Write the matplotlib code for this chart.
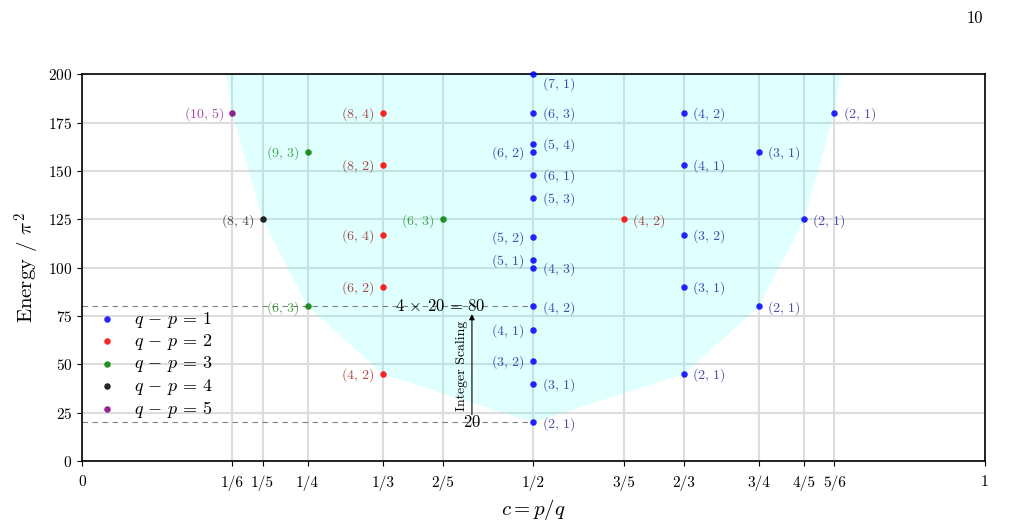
import numpy as np
import matplotlib
matplotlib.use("Agg")
import matplotlib.pyplot as plt

plt.rcParams['font.family'] = 'serif'
plt.rcParams['font.serif'] = ['cmr10']
plt.rcParams['mathtext.fontset'] = 'cm'
plt.rcParams['axes.formatter.use_mathtext'] = True

# q - p = 1
c1 = [1/2]*14 + [2/3]*5 + [3/4]*2 + [4/5] + [5/6]
e1 = [20, 40, 52, 68, 80, 100, 104, 116, 136, 148, 160, 164, 180, 200,
      45, 90, 117, 153, 180,
      80, 160,
      125,
      180]
l1 = ['(2,1)', '(3,1)', '(3,2)', '(4,1)', '(4,2)', '(4,3)', '(5,1)', '(5,2)',
      '(5,3)', '(6,1)', '(6,2)', '(5,4)', '(6,3)', '(7,1)',
      '(2,1)', '(3,1)', '(3,2)', '(4,1)', '(4,2)',
      '(2,1)', '(3,1)',
      '(2,1)',
      '(2,1)']
s1 = ['r', 'r', 'l', 'l', 'r', 'r', 'l', 'l', 'r', 'r', 'l', 'r', 'r', 'r',
      'r', 'r', 'r', 'r', 'r', 'r', 'r', 'r', 'r']

# q - p = 2
c2 = [1/3]*5 + [3/5]
e2 = [45, 90, 117, 153, 180, 125]
l2 = ['(4,2)', '(6,2)', '(6,4)', '(8,2)', '(8,4)', '(4,2)']
s2 = ['l', 'l', 'l', 'l', 'l', 'r']

# q - p = 3
c3 = [1/4, 1/4, 2/5]
e3 = [80, 160, 125]
l3 = ['(6,3)', '(9,3)', '(6,3)']
s3 = ['l', 'l', 'l']

# q - p = 4
c4 = [1/5]
e4 = [125]
l4 = ['(8,4)']
s4 = ['l']

# q - p = 5
c5 = [1/6]
e5 = [180]
l5 = ['(10,5)']
s5 = ['l']

# lower edge of the allowed region (lowest energy 5 q^2 at each c)
edge_c = [1/7, 1/6, 1/5, 1/4, 1/3, 1/2, 2/3, 3/4, 4/5, 5/6, 6/7]
edge_e = [245, 180, 125, 80, 45, 20, 45, 80, 125, 180, 245]

tick_c = [0, 1/6, 1/5, 1/4, 1/3, 2/5, 1/2, 3/5, 2/3, 3/4, 4/5, 5/6, 1]
tick_l = ['0', '1/6', '1/5', '1/4', '1/3', '2/5', '1/2', '3/5', '2/3', '3/4',
          '4/5', '5/6', '1']

fig = plt.figure(figsize=(10.12, 5.30), dpi=100)
ax = fig.add_axes([0.081, 0.130, 0.892, 0.730])

ax.set_xticks(tick_c)
ax.set_xticklabels(tick_l, fontsize=11)
ax.set_yticks(np.arange(0, 201, 25))
ax.tick_params(axis='y', labelsize=11)
ax.tick_params(axis='x', pad=7)
ax.grid(True, color='#dddddd', lw=1.5, zorder=0)
ax.set_axisbelow(True)

ax.fill_between(edge_c, edge_e, 400, color='cyan', alpha=0.12, lw=0, zorder=1)

ax.plot([0, 0.5], [80, 80], ls=(0, (5, 4)), color='gray', lw=0.8, zorder=2)
ax.plot([0, 0.5], [20, 20], ls=(0, (5, 4)), color='gray', lw=0.8, zorder=2)

groups = [
    (c1, e1, l1, s1, 'blue', 'darkblue', r'$q\,-\,p\,=\,1$'),
    (c2, e2, l2, s2, 'red', 'darkred', r'$q\,-\,p\,=\,2$'),
    (c3, e3, l3, s3, 'green', 'green', r'$q\,-\,p\,=\,3$'),
    (c4, e4, l4, s4, 'black', 'black', r'$q\,-\,p\,=\,4$'),
    (c5, e5, l5, s5, 'purple', 'purple', r'$q\,-\,p\,=\,5$'),
]
for cc, ee, ll, ss, col, tcol, name in groups:
    ax.scatter(cc, ee, s=22, color=col, alpha=0.85, lw=0, zorder=4,
               label=name, clip_on=False)
    for x, y, t, side in zip(cc, ee, ll, ss):
        tex = '$' + t.replace(',', ',\\,') + '$'
        dy = -7 if y >= 200 else -1
        if side == 'r':
            ax.annotate(tex, (x, y), xytext=(6, dy), textcoords='offset points',
                        ha='left', va='center', fontsize=10, color=tcol, alpha=0.7)
        else:
            ax.annotate(tex, (x, y), xytext=(-6, dy), textcoords='offset points',
                        ha='right', va='center', fontsize=10, color=tcol, alpha=0.7)

ax.text(0.397, 80, r'$4\,\times\,20\,=\,80$', ha='center', va='center', fontsize=12, zorder=3)
ax.text(0.432, 20, r'$20$', ha='center', va='center', fontsize=12, zorder=3)
ax.annotate('', xy=(0.432, 76), xytext=(0.432, 24),
            arrowprops=dict(arrowstyle='-|>', color='black', lw=0.8,
                            mutation_scale=8, shrinkA=0, shrinkB=0))
ax.text(0.421, 49, 'Integer Scaling', rotation=90, ha='center', va='center', fontsize=10)

ax.set_xlim(0, 1)
ax.set_ylim(0, 200)
ax.set_xlabel('$c = p/q$', fontsize=15)
ax.set_ylabel(r'Energy / $\pi^2$', fontsize=15)
for sp in ax.spines.values():
    sp.set_linewidth(1.2)

ax.legend(loc='lower left', bbox_to_anchor=(0.0, 0.065), frameon=False,
          fontsize=13, handlelength=1.0, handletextpad=1.0, labelspacing=0.12,
          markerscale=1.0)

fig.text(0.963, 0.966, '10', ha='center', va='center', fontsize=12)

fig.savefig('out.png', dpi=100)
